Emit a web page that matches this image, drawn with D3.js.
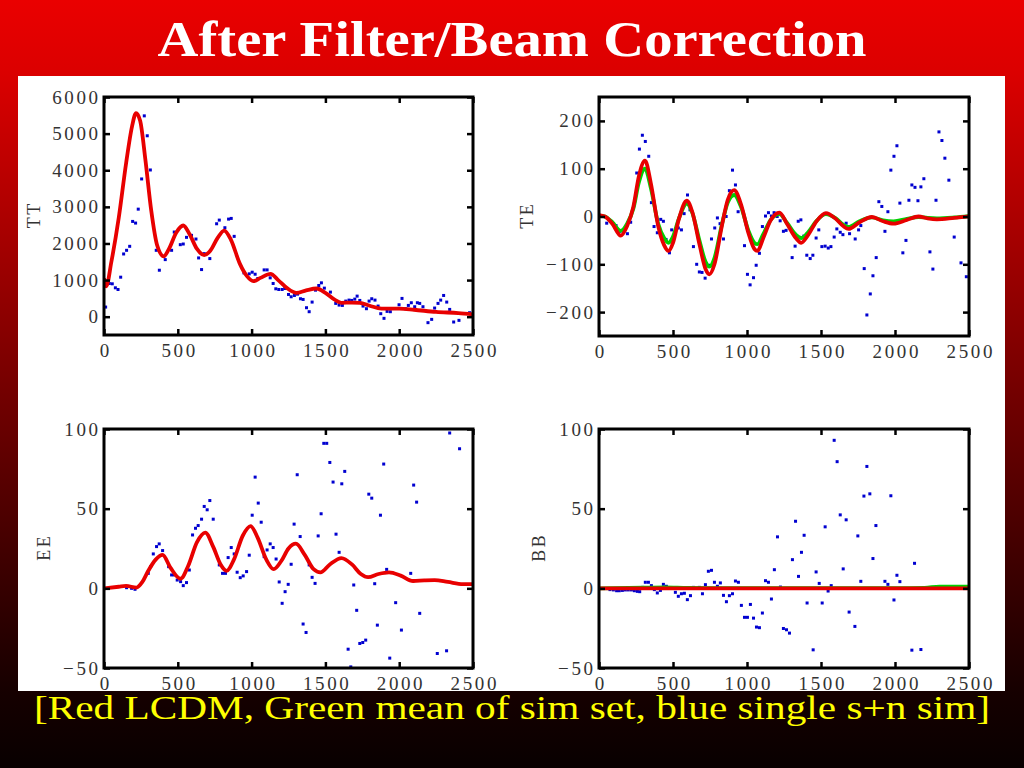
<!DOCTYPE html>
<html><head><meta charset="utf-8">
<script src="https://cdn.jsdelivr.net/npm/d3@7/dist/d3.min.js"></script>
<style>html,body{margin:0;padding:0;background:#000;}svg{display:block;}</style>
</head><body>
<script>
// ---------- DATA ----------
const titleText = "After Filter/Beam Correction";
const captionText = "[Red LCDM, Green mean of sim set, blue single s+n sim]";
const xTicks = [0, 500, 1000, 1500, 2000, 2500];
const ttTicks = [0, 1000, 2000, 3000, 4000, 5000, 6000];
const teTicks = [-200, -100, 0, 100, 200];
const eeTicks = [-50, 0, 50, 100];
const bbTicks = [-50, 0, 50, 100];

// TT theory (red)
const ttModelL = [0,15,50,100,150,190,217,245,280,320,360,405,440,490,537,580,630,679,720,770,814,860,920,970,1011,1060,1128,1180,1240,1304,1370,1440,1500,1560,1608,1680,1733,1800,1880,2000,2100,2250,2400,2500];
const ttModelV = [1050,830,1500,2700,4200,5200,5560,5350,4300,2900,1950,1650,1850,2300,2490,2250,1850,1680,1800,2150,2350,2100,1450,1100,970,1060,1170,1000,780,650,720,770,650,470,380,385,380,300,220,220,190,130,100,65];
// TT single sim (blue)
const ttDotL = [11,36,56,77,95,113,133,153,174,194,214,232,255,273,293,314,354,375,415,458,476,517,537,559,593,623,641,661,679,717,763,781,819,844,862,882,948,984,1004,1024,1042,1085,1105,1126,1146,1164,1184,1207,1225,1250,1268,1290,1311,1331,1349,1372,1390,1410,1433,1455,1473,1493,1534,1570,1593,1615,1638,1660,1678,1699,1715,1733,1755,1778,1796,1814,1836,1857,1875,1897,1918,1940,1999,2019,2044,2062,2082,2105,2123,2139,2161,2195,2220,2240,2263,2281,2301,2322,2342,2369,2405,2477];
const ttDotV = [263,907,898,789,743,1079,1713,1813,1922,2602,2557,2937,3762,5485,4941,4007,1813,1269,1559,1813,2312,1967,1985,2167,2221,2121,1605,1287,1722,1587,2538,2638,2430,2665,2684,2194,1197,1170,1215,1160,1043,1278,1278,1061,907,762,743,743,770,607,544,580,616,490,471,245,136,399,725,852,925,780,671,363,317,308,426,453,444,480,562,444,290,218,426,490,453,290,82,-45,145,136,326,499,218,308,381,272,381,363,272,-163,-73,236,363,453,580,399,199,-145,-100,109];

// TE theory (red) and sim mean (green)
const teModelL = [0,40,90,147,190,232,270,311,350,400,440,469,500,540,593,630,680,720,746,780,830,870,913,960,1010,1050,1071,1110,1160,1219,1270,1330,1366,1410,1470,1533,1600,1650,1686,1760,1844,1920,1990,2080,2159,2220,2283,2400,2500];
const teRedV = [3,0,-15,-40,-20,20,85,117,70,-20,-60,-72,-55,-5,33,10,-60,-110,-121,-100,-20,35,55,25,-35,-68,-72,-45,-8,8,-15,-45,-55,-40,-10,7,-5,-20,-26,-12,-1,-10,-15,-7,0,-4,-6,-3,0];
const teGreenV = [2,0,-12,-30,-15,16,72,100,60,-15,-45,-55,-42,-4,27,8,-52,-95,-105,-87,-17,29,45,20,-30,-55,-58,-37,-7,5,-13,-38,-45,-34,-9,5,-4,-17,-22,-10,-2,-8,-10,-5,-1,-3,-4,-2,1];
const teDotL = [52,86,115,142,165,192,214,255,273,293,313,336,354,372,394,417,435,453,476,491,536,557,575,598,615,638,660,678,696,717,742,760,782,800,818,841,859,881,902,922,940,983,1003,1021,1044,1062,1084,1104,1125,1145,1165,1183,1204,1224,1246,1264,1305,1325,1346,1364,1384,1404,1427,1445,1467,1485,1506,1528,1549,1567,1589,1607,1630,1648,1670,1693,1731,1754,1769,1792,1810,1833,1851,1873,1891,1911,1932,1952,1972,1993,2013,2033,2053,2074,2094,2114,2135,2155,2175,2195,2236,2256,2277,2297,2317,2337,2364,2400,2446,2482];
const teDotV = [-14,-12,-19,-31,-31,-36,-12,91,141,170,157,126,29,-21,-34,-6,-10,-48,-76,-28,-24,-28,6,45,14,-63,-100,-116,-117,-129,-102,-47,-24,-3,-15,-47,0,54,97,66,10,-61,-121,-143,-128,-102,-77,-21,1,8,1,8,0,-9,-31,-29,-86,-62,-10,-7,-41,-81,-88,-81,-45,-28,-63,-62,-66,-63,-43,-26,-33,-38,-14,-36,-47,-28,-19,-109,-206,-162,-124,-86,31,21,-31,10,97,126,148,28,-76,-50,34,66,61,33,62,79,-74,-110,34,177,159,122,76,-43,-97,-126];

// EE theory (red)
const eeModelL = [0,100,150,220,260,300,350,397,450,519,570,630,686,740,790,830,880,940,993,1040,1100,1150,1200,1250,1300,1360,1420,1466,1530,1609,1680,1740,1789,1860,1931,2010,2094,2170,2240,2330,2432,2500];
const eeModelV = [0,1,1.5,0.5,4,11,18,21,13,6,14,29,35,26,15,11,18,33,39,32,18,12,17,25,28,21,12,10,15,19,15,9,7,9,10,8,4.6,5,5.2,4,2.7,2.7];
const eeDotL = [153,187,210,300,316,334,356,374,397,438,458,476,496,519,537,559,578,600,620,638,661,679,699,717,740,781,803,823,841,862,882,902,923,943,966,984,1004,1024,1045,1065,1085,1105,1126,1146,1166,1187,1207,1227,1248,1268,1288,1309,1329,1349,1369,1390,1410,1430,1451,1471,1489,1509,1530,1552,1572,1593,1611,1631,1654,1672,1692,1712,1733,1753,1773,1794,1814,1834,1852,1873,1895,1915,1936,1976,2015,2078,2098,2118,2139,2258,2321,2342,2409];
const eeDotV = [0.4,0,-0.6,9.4,13.6,21.6,26.2,27.9,23.7,13.6,8.4,8.4,5.2,4.2,1.7,3.6,11.5,33.5,37.7,39.4,43.4,51.4,49.3,55.1,43.4,14.7,9.4,9.4,19.3,25.6,21.6,10.1,6.7,7.8,10.5,20.8,45.9,69.8,53.5,41.5,19.9,24.1,27.9,25.6,18.4,4.0,-9.4,-2.1,2.5,15.1,40.3,71.3,32.5,-22.4,-27.7,14.7,6.9,3.1,32.9,46.8,91,91,79,66.7,34.0,22.6,65.6,73.4,-38.2,-49.3,2.1,-13.8,-34.6,-34.0,-32.5,59.1,56.6,2.9,-23.1,45.9,78.0,11.9,-43.8,-9.0,-26.2,9.4,64.8,54.1,-15.7,-40.9,-39.2,97.5,87.6];

// BB theory (red) and sim mean (green)
const bbModelL = [0,2500];
const bbModelV = [0,0];
const bbGreenL = [0,300,450,600,1000,2000,2200,2300,2500];
const bbGreenV = [0,0.4,0.6,0.2,0.1,0.1,0.3,1.1,1.1];
const bbDotL = [74,97,119,137,158,178,198,219,239,259,275,295,313,334,354,374,394,415,435,455,496,516,536,557,577,597,618,638,678,699,719,739,760,780,800,820,841,861,881,902,922,942,962,983,1003,1023,1044,1064,1084,1104,1125,1145,1165,1185,1206,1226,1246,1267,1287,1307,1328,1348,1368,1386,1406,1447,1467,1488,1508,1528,1548,1569,1589,1609,1630,1650,1670,1690,1729,1749,1769,1790,1810,1830,1851,1871,1932,1952,1972,1993,2013,2033,2114,2132,2175];
const bbDotV = [-0.8,-1,-1.5,-1.5,-1.3,-1,-1,-1,-1.5,-1.9,-2.1,0.6,3.8,3.8,1.7,-0.8,-2.9,-1.3,2.5,1.3,0.4,-2.5,-5.0,-3.4,-3.1,-7.1,-4.6,0.6,0.6,-3.4,2.3,10.7,11.3,3.8,1.3,3.4,-4.4,-8.4,-4.6,-3.4,4.6,3.8,-10.7,-18.2,-18.2,-10.1,-18.7,-24.3,-24.7,-15.5,4.8,3.8,-6.7,11.7,32.3,0.8,-25.2,-26.0,-28.1,18.0,42.1,7.5,22.6,33.3,-9.2,-38.6,10.3,3.1,-9.2,38.6,-1.7,1.7,92.9,79.5,46.1,12.2,43.0,-14.9,-23.9,32.9,4.4,57.9,76.5,59.3,18.7,39.4,4.4,2.5,58.1,-7.3,8.2,4.2,-38.8,15.7,-38.4];

// ---------- DRAW ----------
const W = 1024, H = 768;
const svg = d3.select("body").append("svg").attr("width", W).attr("height", H);
const defs = svg.append("defs");
const grad = defs.append("linearGradient").attr("id", "bg").attr("gradientUnits", "userSpaceOnUse")
  .attr("x1", 0).attr("y1", 0).attr("x2", 0).attr("y2", H);
[[0, "#ea0000"], [0.09, "#dc0000"], [0.5, "#760000"], [0.9, "#160000"], [1, "#080000"]]
  .forEach(([o, c]) => grad.append("stop").attr("offset", o).attr("stop-color", c));
svg.append("rect").attr("width", W).attr("height", H).attr("fill", "url(#bg)");
svg.append("rect").attr("x", 18).attr("y", 76).attr("width", 987).attr("height", 615).attr("fill", "#fff");

const panels = [
  {name: "TT", x0: 104, x1: 473, y0: 97, y1: 335, dom: [-500, 6000], ticks: ttTicks, labX: 34,
   dots: [ttDotL, ttDotV], lines: [[ttModelL, ttModelV, "#e80000"]]},
  {name: "TE", x0: 599, x1: 969, y0: 97, y1: 336, dom: [-250, 250], ticks: teTicks, labX: 527,
   dots: [teDotL, teDotV], lines: [[teModelL, teGreenV, "#00d000"], [teModelL, teRedV, "#e80000"]]},
  {name: "EE", x0: 104, x1: 473, y0: 429, y1: 668, dom: [-50, 100], ticks: eeTicks, labX: 44,
   dots: [eeDotL, eeDotV], lines: [[eeModelL, eeModelV, "#e80000"]]},
  {name: "BB", x0: 599, x1: 969, y0: 429, y1: 668, dom: [-50, 100], ticks: bbTicks, labX: 539,
   dots: [bbDotL, bbDotV], lines: [[bbGreenL, bbGreenV, "#00d000"], [bbModelL, bbModelV, "#e80000"]]}
];

const tickFont = "'Liberation Serif', 'DejaVu Serif', serif";
const LS = 2.6; // letter spacing to mimic a typewriter face
const fmt = d3.format("d");

panels.forEach((p, i) => {
  const x = d3.scaleLinear().domain([0, 2500]).range([p.x0, p.x1]);
  const y = d3.scaleLinear().domain(p.dom).range([p.y1, p.y0]);
  const g = svg.append("g");
  const clipId = "clip" + i;
  defs.append("clipPath").attr("id", clipId).append("rect")
    .attr("x", p.x0).attr("y", p.y0).attr("width", p.x1 - p.x0).attr("height", p.y1 - p.y0);
  const plot = g.append("g").attr("clip-path", `url(#${clipId})`);
  // dots
  plot.selectAll("rect.dot").data(p.dots[0].map((l, k) => [l, p.dots[1][k]])).enter()
    .append("rect").attr("class", "dot")
    .attr("x", d => x(d[0]) - 1.5).attr("y", d => y(d[1]) - 1.5)
    .attr("width", 3).attr("height", 3).attr("fill", "#0000d0");
  // lines
  p.lines.forEach(([L, V, col]) => {
    const line = d3.line().x(d => x(d[0])).y(d => y(d[1])).curve(d3.curveMonotoneX);
    plot.append("path").datum(L.map((l, k) => [l, V[k]]))
      .attr("d", line).attr("fill", "none").attr("stroke", col)
      .attr("stroke-width", 3.8).attr("stroke-linejoin", "round");
  });
  // axes
  const styleAxis = sel => {
    sel.select(".domain").remove();
    sel.selectAll(".tick line").attr("stroke", "#000").attr("stroke-width", 2.5);
    sel.selectAll("text").attr("font-family", tickFont).attr("font-size", 19)
      .attr("letter-spacing", LS).attr("fill", "#333");
  };
  const bx = g.append("g").attr("transform", `translate(0,${p.y1})`)
    .call(d3.axisBottom(x).tickValues(xTicks).tickSize(-6).tickPadding(9).tickFormat(fmt)).call(styleAxis);
  bx.selectAll("text").attr("dx", LS / 2);
  g.append("g").attr("transform", `translate(0,${p.y0})`)
    .call(d3.axisTop(x).tickValues(xTicks).tickSize(-6).tickFormat("")).call(styleAxis);
  g.append("g").attr("transform", `translate(${p.x0},0)`)
    .call(d3.axisLeft(y).tickValues(p.ticks).tickSize(-6).tickPadding(6 - LS).tickFormat(fmt)).call(styleAxis);
  g.append("g").attr("transform", `translate(${p.x1},0)`)
    .call(d3.axisRight(y).tickValues(p.ticks).tickSize(-6).tickFormat("")).call(styleAxis);
  // box
  g.append("rect").attr("x", p.x0).attr("y", p.y0).attr("width", p.x1 - p.x0).attr("height", p.y1 - p.y0)
    .attr("fill", "none").attr("stroke", "#000").attr("stroke-width", 3);
  // y label
  const cy = (p.y0 + p.y1) / 2;
  g.append("text").attr("transform", `translate(${p.labX},${cy}) rotate(-90)`)
    .attr("text-anchor", "middle").attr("dominant-baseline", "central").attr("dx", LS / 2)
    .attr("font-family", tickFont).attr("font-size", 18).attr("letter-spacing", LS)
    .attr("fill", "#333").text(p.name);
});

// bottom band (covers the lower part of the bottom tick labels, as in the slide)
svg.append("rect").attr("x", 0).attr("y", 691).attr("width", W).attr("height", H - 691).attr("fill", "url(#bg)");

// title and caption
svg.append("text").attr("x", 512).attr("y", 56).attr("text-anchor", "middle")
  .attr("font-family", "'Liberation Serif', 'DejaVu Serif', serif").attr("font-size", 50).attr("font-weight", "bold")
  .attr("fill", "#fff").attr("textLength", 709).attr("lengthAdjust", "spacingAndGlyphs").text(titleText);
svg.append("text").attr("x", 512).attr("y", 719).attr("text-anchor", "middle")
  .attr("font-family", "'Liberation Serif', 'DejaVu Serif', serif").attr("font-size", 33)
  .attr("fill", "#ffff00").attr("textLength", 956).attr("lengthAdjust", "spacingAndGlyphs").text(captionText);
</script>
</body></html>
